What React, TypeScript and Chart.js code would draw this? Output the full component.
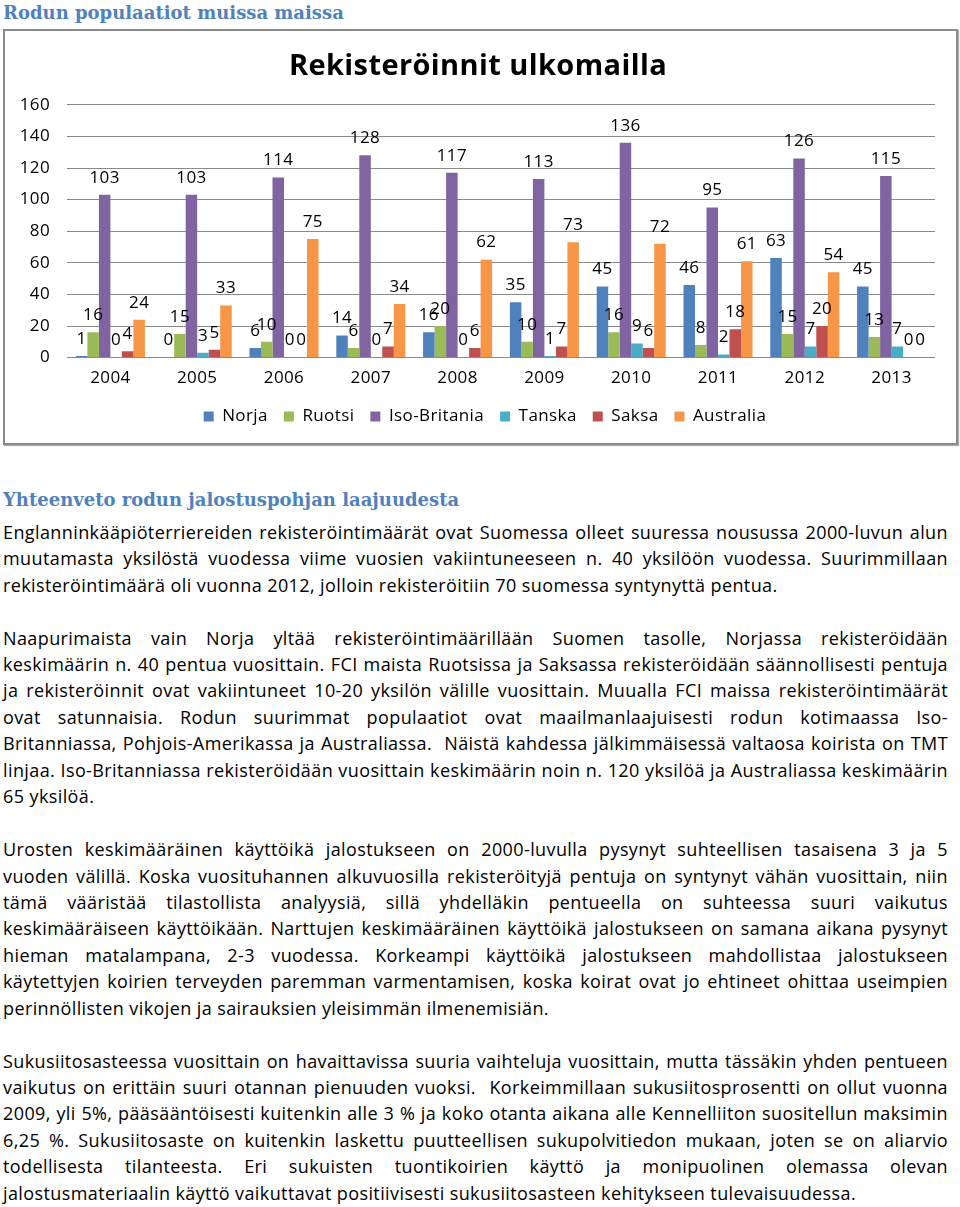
import React, { useEffect, useRef } from "react";
import { Chart, registerables } from "chart.js";

Chart.register(...registerables);

const years = ["2004", "2005", "2006", "2007", "2008", "2009", "2010", "2011", "2012", "2013"];
const norja = [1, 0, 6, 14, 16, 35, 45, 46, 63, 45];
const ruotsi = [16, 15, 10, 6, 20, 10, 16, 8, 15, 13];
const isoBritania = [103, 103, 114, 128, 117, 113, 136, 95, 126, 115];
const tanska = [0, 3, 0, 0, 0, 1, 9, 2, 7, 7];
const saksa = [4, 5, 0, 7, 6, 7, 6, 18, 20, 0];
const australia = [24, 33, 75, 34, 62, 73, 72, 61, 54, 0];
const seriesNames = ["Norja", "Ruotsi", "Iso-Britania", "Tanska", "Saksa", "Australia"];
const seriesColors = ["#4F81BD", "#9BBB59", "#8064A2", "#4BACC6", "#C0504D", "#F79646"];
const yTicks = [0, 20, 40, 60, 80, 100, 120, 140, 160];

const pageTitle = "Rodun populaatiot muissa maissa";
const chartTitle = "Rekisteröinnit ulkomailla";
const heading = "Yhteenveto rodun jalostuspohjan laajuudesta";

const paragraphs: string[][] = [
  [
    "Englanninkääpiöterriereiden rekisteröintimäärät ovat Suomessa olleet suuressa nousussa 2000-luvun alun",
    "muutamasta yksilöstä vuodessa viime vuosien vakiintuneeseen n. 40 yksilöön vuodessa. Suurimmillaan",
    "rekisteröintimäärä oli vuonna 2012, jolloin rekisteröitiin 70 suomessa syntynyttä pentua.",
  ],
  [
    "Naapurimaista vain Norja yltää rekisteröintimäärillään Suomen tasolle, Norjassa rekisteröidään",
    "keskimäärin n. 40 pentua vuosittain. FCI maista Ruotsissa ja Saksassa rekisteröidään säännollisesti pentuja",
    "ja rekisteröinnit ovat vakiintuneet 10-20 yksilön välille vuosittain. Muualla FCI maissa rekisteröintimäärät",
    "ovat satunnaisia. Rodun suurimmat populaatiot ovat maailmanlaajuisesti rodun kotimaassa Iso-",
    "Britanniassa, Pohjois-Amerikassa ja Australiassa.  Näistä kahdessa jälkimmäisessä valtaosa koirista on TMT",
    "linjaa. Iso-Britanniassa rekisteröidään vuosittain keskimäärin noin n. 120 yksilöä ja Australiassa keskimäärin",
    "65 yksilöä.",
  ],
  [
    "Urosten keskimääräinen käyttöikä jalostukseen on 2000-luvulla pysynyt suhteellisen tasaisena 3 ja 5",
    "vuoden välillä. Koska vuosituhannen alkuvuosilla rekisteröityjä pentuja on syntynyt vähän vuosittain, niin",
    "tämä vääristää tilastollista analyysiä, sillä yhdelläkin pentueella on suhteessa suuri vaikutus",
    "keskimääräiseen käyttöikään. Narttujen keskimääräinen käyttöikä jalostukseen on samana aikana pysynyt",
    "hieman matalampana, 2-3 vuodessa. Korkeampi käyttöikä jalostukseen mahdollistaa jalostukseen",
    "käytettyjen koirien terveyden paremman varmentamisen, koska koirat ovat jo ehtineet ohittaa useimpien",
    "perinnöllisten vikojen ja sairauksien yleisimmän ilmenemisiän.",
  ],
  [
    "Sukusiitosasteessa vuosittain on havaittavissa suuria vaihteluja vuosittain, mutta tässäkin yhden pentueen",
    "vaikutus on erittäin suuri otannan pienuuden vuoksi.  Korkeimmillaan sukusiitosprosentti on ollut vuonna",
    "2009, yli 5%, pääsääntöisesti kuitenkin alle 3 % ja koko otanta aikana alle Kennelliiton suositellun maksimin",
    "6,25 %. Sukusiitosaste on kuitenkin laskettu puutteellisen sukupolvitiedon mukaan, joten se on aliarvio",
    "todellisesta tilanteesta. Eri sukuisten tuontikoirien käyttö ja monipuolinen olemassa olevan",
    "jalostusmateriaalin käyttö vaikuttavat positiivisesti sukusiitosasteen kehitykseen tulevaisuudessa.",
  ],
];

const FONT = "'Open Sans', Lato, sans-serif";
const LINE_H = 26.44;

const valueLabels = {
  id: "valueLabels",
  afterDatasetsDraw(chart: any) {
    const ctx = chart.ctx;
    ctx.save();
    ctx.font = "17px " + FONT;
    ctx.fillStyle = "#000";
    ctx.textAlign = "center";
    ctx.textBaseline = "middle";
    chart.data.datasets.forEach((ds: any, i: number) => {
      const meta = chart.getDatasetMeta(i);
      meta.data.forEach((bar: any, j: number) => {
        ctx.fillText(String(ds.data[j]), bar.x, bar.y - 17);
      });
    });
    ctx.restore();
  },
};

const shiftBoxes = {
  id: "shiftBoxes",
  afterLayout(chart: any) {
    if (chart.legend) {
      chart.legend.left += 15;
      chart.legend.right += 15;
    }
    if (chart.titleBlock) {
      chart.titleBlock.left += 8;
      chart.titleBlock.right += 8;
    }
  },
};

function BarChart() {
  const ref = useRef<HTMLCanvasElement | null>(null);
  useEffect(() => {
    if (!ref.current) return;
    const values = [norja, ruotsi, isoBritania, tanska, saksa, australia];
    const chart = new Chart(ref.current, {
      type: "bar",
      data: {
        labels: years,
        datasets: seriesNames.map((name, i) => ({
          label: name,
          data: values[i],
          backgroundColor: seriesColors[i],
          borderWidth: 0,
          categoryPercentage: 0.795,
          barPercentage: 1,
        })),
      },
      options: {
        animation: false,
        responsive: false,
        maintainAspectRatio: false,
        layout: { padding: { left: 0, right: 21, top: 0, bottom: 8 } },
        plugins: {
          title: {
            display: true,
            text: chartTitle,
            color: "#000",
            font: { family: FONT, size: 29, weight: "bold" },
            padding: { top: 18, bottom: 21 },
          },
          legend: {
            position: "bottom",
            labels: {
              boxWidth: 10,
              boxHeight: 10,
              color: "#000",
              font: { family: FONT, size: 17 },
              padding: 16,
            },
          },
          tooltip: { enabled: false },
        },
        scales: {
          x: {
            grid: { display: false },
            border: { display: false },
            ticks: { color: "#000", font: { family: FONT, size: 17 }, padding: 2 },
            afterFit: (s: any) => {
              s.height += 2;
            },
          },
          y: {
            min: yTicks[0],
            max: yTicks[yTicks.length - 1],
            afterBuildTicks: (s: any) => {
              s.ticks = yTicks.map((v) => ({ value: v }));
            },
            afterFit: (s: any) => {
              s.width = 62;
            },
            grid: { color: "#8a8a8a", drawTicks: false },
            border: { display: false },
            ticks: { color: "#000", font: { family: FONT, size: 17 }, padding: 17 },
          },
        },
      },
      plugins: [valueLabels, shiftBoxes],
    } as any);
    return () => chart.destroy();
  }, []);
  return <canvas ref={ref} width={951} height={412} style={{ display: "block", width: 951, height: 412 }} />;
}

export default function App() {
  const serifHead: React.CSSProperties = {
    position: "absolute",
    left: 3,
    fontFamily: "'DejaVu Serif', serif",
    fontWeight: "bold",
    fontSize: 18,
    lineHeight: "24px",
    color: "#4F81BD",
    whiteSpace: "nowrap",
    letterSpacing: 0,
  };
  let lineIndex = 0;
  const lines: React.ReactNode[] = [];
  paragraphs.forEach((p, pi) => {
    p.forEach((txt, li) => {
      const last = li === p.length - 1;
      lines.push(
        <div
          key={pi + "-" + li}
          style={{
            position: "absolute",
            left: 3,
            top: 518.8 + lineIndex * LINE_H,
            width: 945,
            height: LINE_H,
            lineHeight: LINE_H + "px",
            whiteSpace: "pre",
            textAlign: last ? "left" : "justify",
            textAlignLast: last ? "left" : "justify",
          }}
        >
          {txt}
        </div>
      );
      lineIndex++;
    });
    lineIndex++;
  });
  return (
    <div
      style={{
        position: "absolute",
        left: 0,
        top: 0,
        width: 960,
        height: 1207,
        overflow: "hidden",
        background: "#fff",
        fontFamily: FONT,
        fontSize: 18,
        letterSpacing: "0.4px",
        color: "#000",
      }}
    >
      <div style={{ ...serifHead, top: 1 }}>{pageTitle}</div>
      <div
        style={{
          position: "absolute",
          left: 3,
          top: 29,
          width: 955,
          height: 416,
          boxSizing: "border-box",
          border: "2px solid #8a8a8a",
          boxShadow: "1px 1px 1px #b0b0b0",
          background: "#fff",
        }}
      >
        <BarChart />
      </div>
      <div style={{ ...serifHead, top: 488 }}>{heading}</div>
      {lines}
    </div>
  );
}
